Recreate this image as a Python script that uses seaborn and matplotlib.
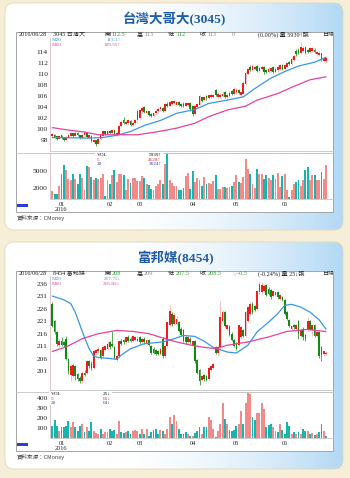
import numpy as np
import pandas as pd
import matplotlib
matplotlib.use("Agg")
import matplotlib.pyplot as plt
import seaborn as sns
from matplotlib.patches import FancyBboxPatch, Rectangle

sns.set_style("white")
SERIF = ['Liberation Serif', 'Noto Sans CJK TC', 'DejaVu Sans']
CJK = ['Noto Sans CJK TC', 'DejaVu Sans']
plt.rcParams['font.family'] = SERIF
plt.rcParams['axes.unicode_minus'] = False

# ---------------- data ----------------
month_idx = [4, 25, 38, 61, 80, 101]
month_labels = ['01\n2016', '02', '03', '04', '05', '06']

# 台灣大哥大 (3045)
o1 = [98.7, 99.0, 98.7, 98.3, 98.9, 98.4, 98.0, 98.4, 98.8, 99.3,
      98.8, 99.4, 98.9, 98.4, 98.9, 99.4, 98.5, 98.8, 97.7, 98.0,
      97.4, 98.2, 98.8, 99.6, 99.1, 99.7, 99.3, 99.8, 98.9, 99.2,
      100.6, 101.6, 100.9, 101.2, 101.5, 100.8, 101.2, 101.6, 102.0, 103.3,
      104.1, 102.9, 103.3, 102.7, 102.4, 102.9, 103.3, 103.6, 103.9, 103.4,
      104.6, 104.3, 104.6, 104.8, 104.5, 105.0, 104.6, 104.6, 104.3, 104.4,
      104.8, 104.2, 102.8, 104.0, 104.5, 105.8, 105.3, 106.0, 105.6, 105.8,
      105.9, 107.2, 105.8, 105.9, 106.0, 106.8, 105.8, 106.0, 106.9, 106.4,
      106.7, 107.2, 106.3, 106.5, 108.2, 110.0, 111.3, 110.8, 110.9, 111.5,
      110.6, 110.9, 111.3, 110.8, 110.4, 110.6, 111.3, 110.5, 110.7, 111.0,
      111.6, 111.0, 111.4, 112.2, 111.8, 112.6, 114.3, 114.5, 113.9, 114.2,
      114.9, 114.4, 114.0, 114.2, 114.5, 113.6, 113.5, 113.8, 112.4, 112.5]
c1 = [99.1, 98.6, 98.3, 98.8, 98.4, 98.0, 98.5, 98.9, 99.3, 98.8,
      99.4, 98.9, 98.4, 99.0, 99.5, 98.6, 98.9, 97.8, 98.1, 97.4,
      98.3, 98.9, 99.6, 99.1, 99.7, 99.3, 99.8, 99.1, 99.3, 100.6,
      101.4, 101.2, 101.3, 101.6, 100.8, 101.2, 101.7, 103.4, 103.5, 103.9,
      103.2, 103.3, 102.6, 102.4, 103.0, 103.4, 103.7, 104.0, 103.4, 104.6,
      104.3, 105.0, 105.1, 105.1, 105.0, 104.4, 104.2, 104.3, 104.8, 104.8,
      103.6, 102.8, 104.2, 104.6, 106.0, 105.2, 105.9, 105.6, 106.2, 106.3,
      106.3, 106.3, 106.5, 106.3, 106.5, 105.9, 106.3, 106.6, 106.4, 107.4,
      107.2, 106.6, 106.8, 108.5, 110.3, 110.9, 110.8, 111.5, 111.4, 110.6,
      111.2, 111.3, 110.4, 110.4, 111.0, 111.1, 110.5, 111.0, 111.3, 111.6,
      111.0, 111.6, 112.0, 111.8, 112.8, 113.4, 113.6, 113.9, 114.9, 114.8,
      113.9, 114.0, 114.7, 114.7, 114.0, 114.0, 113.9, 112.8, 113.0, 113.0]
h1 = [99.3, 99.1, 98.8, 99.0, 99.0, 98.6, 98.7, 99.1, 99.5, 99.4,
      99.6, 99.5, 99.0, 99.2, 99.7, 99.5, 99.1, 98.9, 98.3, 98.1,
      98.5, 99.1, 99.8, 99.7, 99.9, 99.8, 100.0, 99.9, 99.5, 100.8,
      101.7, 102.3, 101.6, 101.8, 101.6, 101.4, 101.9, 103.6, 103.7, 104.2,
      104.3, 103.5, 103.4, 102.9, 103.2, 103.6, 104.0, 104.2, 104.0, 104.8,
      104.9, 105.2, 105.3, 105.4, 105.2, 105.1, 104.8, 104.9, 105.0, 105.0,
      104.9, 104.3, 104.4, 104.8, 106.2, 105.9, 106.1, 106.2, 106.5, 106.6,
      106.5, 107.4, 106.8, 106.6, 106.9, 107.0, 106.6, 106.9, 107.1, 107.6,
      107.5, 107.3, 107.0, 108.7, 110.6, 111.2, 111.6, 111.8, 111.7, 111.7,
      111.5, 111.6, 111.5, 111.0, 111.3, 111.4, 111.5, 111.3, 111.6, 111.9,
      111.8, 111.9, 112.3, 112.4, 113.1, 113.6, 114.6, 114.8, 115.9, 115.1,
      115.0, 114.6, 115.0, 115.0, 114.7, 114.3, 114.2, 113.9, 113.2, 113.0]
l1 = [98.6, 98.4, 98.1, 98.2, 98.2, 97.8, 97.9, 98.3, 98.7, 98.6,
      98.7, 98.7, 98.2, 98.3, 98.8, 98.4, 98.3, 97.6, 97.4, 96.9,
      97.3, 98.1, 98.7, 99.0, 99.0, 99.1, 99.2, 98.9, 98.8, 99.1,
      100.4, 101.0, 100.7, 101.0, 100.6, 100.6, 101.0, 101.5, 101.9, 103.0,
      103.0, 102.7, 102.4, 102.2, 102.3, 102.8, 103.2, 103.4, 103.2, 103.3,
      104.1, 104.2, 104.5, 104.6, 104.4, 104.2, 104.0, 104.1, 104.2, 104.2,
      103.4, 102.5, 102.6, 103.8, 104.4, 105.0, 105.1, 105.4, 105.5, 105.6,
      105.7, 106.1, 105.6, 105.7, 105.8, 105.6, 105.5, 105.8, 106.2, 106.3,
      106.5, 106.4, 106.1, 106.4, 108.0, 109.8, 110.6, 110.6, 110.7, 110.4,
      110.4, 110.7, 110.1, 110.2, 110.2, 110.4, 110.3, 110.3, 110.5, 110.8,
      110.8, 110.8, 111.2, 111.6, 111.7, 112.4, 113.4, 113.7, 113.8, 114.0,
      113.7, 113.8, 113.8, 114.0, 113.8, 113.4, 113.3, 112.5, 112.2, 112.0]
ma20_1_x = [0, 16, 22, 28, 34, 40, 47, 54, 62, 68, 76, 83, 88, 95, 101, 107, 114, 119]
ma20_1_y = [98.5, 98.4, 98.5, 98.9, 99.6, 100.7, 101.6, 102.9, 103.6, 104.7,
            105.3, 105.9, 107.4, 109.3, 110.5, 111.5, 112.2, 113.1]
ma60_1_x = [0, 8, 14, 20, 28, 37, 45, 54, 62, 68, 76, 84, 89, 98, 105, 112, 119]
ma60_1_y = [100.3, 99.8, 99.5, 99.0, 99.0, 99.0, 99.5, 100.2, 101.1, 102.3,
            103.5, 104.2, 105.3, 106.5, 107.8, 109.0, 109.55]
v1 = [1400, 1000, 1000, 2400, 4500, 6100, 5100, 3500, 3350, 4500,
      3500, 2650, 4500, 3750, 1700, 5800, 5700, 4000, 3350, 3750,
      3500, 3750, 4500, 600, 3350, 2750, 4250, 5250, 3050, 4500,
      4500, 4350, 1600, 3500, 2900, 3800, 3800, 3250, 3250, 4050,
      3800, 2750, 2450, 1900, 1600, 2300, 2750, 3450, 2650, 6150,
      7950, 3450, 2900, 2300, 2300, 1600, 1700, 2050, 4050, 4700,
      1900, 4950, 3050, 3750, 3450, 2350, 3950, 2750, 2900, 2750,
      3250, 4350, 1900, 1900, 2200, 2200, 2050, 2200, 2300, 3050,
      4350, 3050, 2900, 3950, 7050, 5400, 4400, 2650, 2050, 5400,
      4500, 4500, 3650, 4250, 3800, 3350, 4250, 3650, 4700, 2200,
      4100, 4400, 1600, 400, 1700, 2750, 3050, 3450, 2350, 3450,
      5250, 5700, 3450, 4350, 4250, 3450, 3350, 4800, 3500, 6000]
vd1 = ("rttrttrrrt" "rttrrtrtrt" "rrrtrtrtrr" "rtrrtrrrrr" "trttrrrrtr" "trrrrtttrr"
       "ttrrrtrtrr" "rtrrrtrrtr" "rtrrrrtrrt" "rrttrrtrrr" "trrtrrttrr" "ttrrtrrtrr")

# 富邦媒 (8454)
o2 = [228.0, 221.0, 216.5, 211.5, 213.0, 212.5, 214.0, 206.0, 199.5, 199.0,
      203.0, 200.0, 198.5, 197.0, 200.5, 200.5, 205.0, 204.0, 202.5, 208.5,
      209.0, 209.5, 207.0, 209.5, 210.0, 212.5, 212.0, 210.5, 205.5, 207.0,
      213.0, 213.5, 212.5, 214.5, 214.0, 213.0, 213.5, 213.0, 214.5, 212.5,
      214.0, 212.0, 213.5, 211.0, 210.0, 209.5, 209.0, 208.0, 214.0, 207.0,
      211.0, 219.5, 224.0, 220.0, 220.0, 220.5, 218.0, 217.5, 214.5, 212.5,
      214.0, 211.5, 213.0, 205.5, 201.5, 197.5, 199.5, 199.0, 198.0, 201.5,
      202.5, 210.5, 208.5, 210.5, 221.0, 224.5, 218.0, 219.0, 216.0, 213.5,
      212.0, 211.5, 214.5, 217.5, 215.0, 221.0, 224.0, 228.0, 227.0, 226.0,
      232.5, 232.5, 233.0, 235.5, 234.0, 233.5, 231.0, 231.5, 232.5, 230.0,
      230.5, 229.5, 224.5, 221.5, 218.0, 219.5, 218.0, 221.0, 215.0, 218.0,
      215.5, 217.5, 221.0, 217.5, 219.5, 215.0, 216.5, 210.5, 208.0, 208.0]
c2 = [219.0, 216.5, 212.0, 213.0, 211.5, 211.5, 206.0, 201.0, 203.0, 203.5,
      199.0, 198.0, 197.0, 200.5, 199.5, 205.0, 203.0, 202.5, 209.0, 209.5,
      210.0, 206.5, 210.5, 211.0, 212.0, 210.5, 211.0, 206.5, 207.0, 213.0,
      212.0, 212.5, 214.5, 213.0, 213.0, 215.0, 214.5, 214.0, 212.5, 214.0,
      212.5, 213.5, 211.5, 208.5, 208.5, 208.0, 208.0, 210.0, 207.0, 211.0,
      220.5, 225.0, 220.0, 223.5, 222.0, 217.0, 215.5, 213.0, 212.5, 214.5,
      212.5, 213.0, 205.0, 200.5, 197.0, 199.0, 198.0, 197.5, 202.5, 203.0,
      204.0, 208.5, 210.5, 222.5, 224.5, 219.0, 219.5, 215.5, 213.5, 211.0,
      210.0, 219.5, 218.5, 215.0, 224.5, 226.5, 228.0, 224.5, 225.5, 233.0,
      236.0, 235.5, 235.0, 231.5, 232.0, 230.5, 233.0, 232.5, 230.5, 231.5,
      229.5, 224.0, 222.0, 219.0, 219.0, 218.5, 219.5, 216.0, 217.5, 214.5,
      214.0, 221.0, 218.0, 219.5, 215.0, 216.5, 207.0, 207.5, 209.0, 208.5]
h2 = [228.5, 221.5, 217.0, 214.0, 214.5, 213.0, 215.0, 206.5, 204.0, 204.5,
      203.5, 200.5, 199.0, 201.0, 201.5, 205.5, 205.5, 205.0, 210.0, 210.0,
      210.5, 210.0, 211.0, 211.5, 213.0, 213.0, 217.0, 211.0, 208.0, 213.5,
      214.0, 214.0, 215.0, 215.5, 214.5, 215.5, 215.0, 215.0, 215.0, 214.5,
      214.5, 214.0, 214.0, 211.5, 210.5, 210.0, 209.5, 210.5, 214.5, 211.5,
      221.0, 227.5, 224.5, 224.5, 223.0, 221.0, 218.5, 218.0, 215.0, 215.5,
      214.5, 213.5, 213.5, 206.0, 202.0, 199.5, 200.0, 199.5, 203.0, 203.5,
      204.5, 211.0, 211.5, 229.0, 225.5, 225.0, 220.0, 219.5, 216.5, 214.0,
      212.5, 220.0, 219.0, 218.0, 225.0, 227.0, 229.0, 228.5, 227.5, 233.5,
      237.0, 236.5, 236.0, 236.0, 234.5, 234.0, 233.5, 233.0, 233.0, 232.0,
      231.0, 230.0, 225.0, 222.0, 219.5, 220.0, 220.0, 221.5, 218.0, 218.5,
      216.0, 222.5, 221.5, 220.0, 220.0, 217.0, 217.0, 211.0, 209.5, 209.0]
l2 = [218.5, 216.0, 211.0, 210.5, 211.0, 210.5, 205.5, 200.0, 197.0, 198.5,
      197.5, 197.0, 196.5, 196.5, 199.0, 200.0, 202.5, 201.5, 202.0, 207.5,
      208.0, 206.0, 206.5, 209.0, 209.5, 210.0, 210.5, 206.0, 205.0, 206.5,
      211.5, 212.0, 212.0, 212.5, 212.5, 212.5, 213.0, 212.5, 212.0, 212.0,
      212.0, 211.5, 211.0, 208.0, 208.0, 207.5, 207.5, 207.5, 206.5, 206.5,
      210.5, 219.0, 219.0, 219.5, 219.5, 216.5, 215.0, 212.5, 212.0, 212.0,
      212.0, 211.0, 204.5, 200.0, 195.5, 197.0, 197.0, 197.0, 197.5, 201.0,
      202.0, 208.0, 207.0, 210.0, 220.5, 218.5, 217.5, 215.0, 213.0, 210.5,
      209.5, 211.0, 214.0, 214.5, 214.5, 220.5, 223.5, 224.0, 225.0, 225.5,
      232.0, 232.0, 232.5, 231.0, 231.5, 230.0, 230.5, 231.0, 230.0, 229.5,
      229.0, 223.5, 221.5, 218.5, 217.5, 218.0, 217.5, 214.0, 214.5, 213.5,
      213.0, 217.0, 217.5, 215.0, 214.5, 214.5, 206.5, 205.0, 207.0, 207.5]
ma20_2_x = [0, 5, 8, 10, 12, 14, 16, 18, 20, 24, 28, 30, 34, 40, 48, 53, 57, 62,
            66, 70, 76, 80, 85, 89, 94, 98, 101, 104, 108, 112, 116, 119]
ma20_2_y = [231.0, 229.5, 228.0, 224.5, 219.5, 214.5, 210.0, 207.0, 206.5, 206.2,
            205.8, 207.5, 210.0, 212.0, 212.7, 214.0, 215.3, 214.9, 213.0, 210.5,
            208.7, 208.3, 211.4, 216.7, 220.6, 224.0, 227.3, 227.7, 226.6, 224.6,
            221.5, 217.75]
ma60_2_x = [0, 6, 13, 20, 28, 35, 42, 48, 54, 60, 65, 71, 76, 85, 94, 102, 111, 119]
ma60_2_y = [208.9, 210.7, 214.0, 216.0, 217.3, 216.9, 216.0, 214.3, 212.7, 211.5,
            210.7, 210.0, 211.4, 212.7, 214.7, 216.9, 217.7, 216.82]
v2 = [116, 178, 116, 67, 106, 106, 116, 172, 106, 155,
      106, 73, 116, 139, 57, 113, 73, 162, 67, 51,
      41, 96, 41, 57, 57, 90, 73, 80, 41, 172,
      57, 51, 57, 67, 41, 67, 83, 73, 41, 90,
      41, 90, 25, 64, 80, 90, 41, 80, 67, 41,
      90, 211, 139, 230, 172, 96, 41, 47, 57, 47,
      25, 25, 51, 73, 106, 47, 113, 113, 211, 178,
      90, 15, 67, 139, 342, 185, 139, 80, 73, 80,
      116, 145, 263, 145, 351, 443, 433, 211, 178, 250,
      253, 351, 286, 113, 129, 139, 113, 73, 57, 139,
      80, 47, 162, 116, 41, 57, 47, 57, 41, 90,
      73, 67, 41, 51, 34, 41, 64, 145, 73, 25]
vd2 = ("tttrttttrr" "tttrtrttrr" "rtrrrtttrr" "ttrttrrrtr" "trtttttrtr" "rrtrrttttr"
       "trtttrttrr" "rtrrrtrttt" "trrtrrrttr" "rrrtttrrtr" "ttttrtrtrt" "trtrtrttrt")

panels = [
    dict(dy=0, title='台灣大哥大(3045)', o=o1, h=h1, l=l1, c=c1,
         m20=(ma20_1_x, ma20_1_y), m60=(ma60_1_x, ma60_1_y), v=v1, vd=vd1,
         ylim=(96.05, 116.6), yticks=list(range(98, 115, 2)), ppu=5.5,
         vylim=(0, 8220), vyticks=[2000, 5000],
         header=[(18.3, '2016/06/28', '#222222'), (53.3, '3045 台灣大', '#222222'),
                 (104, '開', '#222222'), (111.7, '112.5', '#2e9b2e'),
                 (136.7, '高', '#222222'), (144, '113', '#8a8a8a'),
                 (168.3, '低', '#222222'), (176, '112', '#2e9b2e'),
                 (200, '收', '#222222'), (207.3, '113', '#8a8a8a'),
                 (231.7, '0', '#8a8a8a'), (258.3, '(0.00%) 量 5939↑張', '#222222'),
                 (323, '日線', '#222222')],
         m20txt='113.1↑', m60txt='109.55↑',
         vleg_x=(96.7, 161.5), vleg=('5939↑', '4128↑', '3624↑')),
    dict(dy=239, title='富邦媒(8454)', o=o2, h=h2, l=l2, c=c2,
         m20=(ma20_2_x, ma20_2_y), m60=(ma60_2_x, ma60_2_y), v=v2, vd=vd2,
         ylim=(193.55, 238.6), yticks=list(range(201, 237, 5)), ppu=2.51,
         vylim=(0, 457), vyticks=[100, 200, 300, 400],
         header=[(18.3, '2016/06/28', '#222222'), (53.3, '8454 富邦媒', '#222222'),
                 (104, '開', '#222222'), (111.7, '208', '#2e9b2e'),
                 (136.7, '高', '#222222'), (144, '209', '#8a8a8a'),
                 (168.3, '低', '#222222'), (176, '207.5', '#2e9b2e'),
                 (200, '收', '#222222'), (207.3, '208.5', '#2e9b2e'),
                 (231.7, '▽-0.5', '#2e9b2e'), (258.3, '(-0.24%) 量 25↓張', '#222222'),
                 (323, '日線', '#222222')],
         m20txt='217.75↓', m60txt='216.82↓',
         vleg_x=(51.0, 111.0), vleg=('25↓', '66↓', '64↓')),
]

# ---------------- styling ----------------
W, H = 350, 478
UP, DN = '#f01c1c', '#138a13'
WUP, WDN = '#f2a3a3', '#8cc28c'
VR, VT = '#f38a8a', '#17b5ad'
C20, C60 = '#3b96e6', '#e2449e'
SPINE_L, SPINE_B = '#dcbcc4', '#c4c4c4'

fig = plt.figure(figsize=(W / 100, H / 100), dpi=100)
fig.patch.set_facecolor('#f6eed7')


def rect(x0, y0, x1, y1):
    return [x0 / W, 1 - y1 / H, (x1 - x0) / W, (y1 - y0) / H]


bg = fig.add_axes([0, 0, 1, 1], zorder=0)
bg.axis('off')

gx = np.linspace(0, 1, 256)
tt = np.clip((gx - 0.3) / 0.7, 0, 1) ** 1.8
cw = np.array([1.0, 1.0, 1.0])
cb = np.array([0.70, 0.85, 0.96])
grow = cw[None, :] * (1 - tt[:, None]) + cb[None, :] * tt[:, None]
grad = np.repeat(grow[None, :, :], 2, axis=0)

for P in panels:
    dy = P['dy']
    # outer rounded panel with gradient
    patch = FancyBboxPatch((5, 3 + dy), 338, 227,
                           boxstyle="round,pad=0,rounding_size=9",
                           transform=bg.transData, fc='none', ec='#e3d7bc',
                           lw=0.6, zorder=2)
    bg.add_patch(patch)
    im = bg.imshow(grad, extent=(5, 343, 230 + dy, 3 + dy), aspect='auto',
                   zorder=1, interpolation='bilinear')
    im.set_clip_path(patch)
    # chart box
    bg.add_patch(Rectangle((16, 31.7 + dy), 317, 180, fc='white', ec='#a5a5a5',
                           lw=0.7, zorder=3))
    bg.plot([16, 333], [152.7 + dy] * 2, color='#c4c4c4', lw=0.6, zorder=4)
    bg.add_patch(Rectangle((16.7, 204.3 + dy), 11.6, 3, fc='#2b3fd6', lw=0, zorder=5))
    bg.text(175, 19.5 + dy, P['title'], ha='center', va='center', fontsize=9.7,
            fontweight='bold', color='#1f5ba8', zorder=5)
    bg.text(17, 217.8 + dy, '資料來源：CMoney', ha='left', va='center', fontsize=4,
            color='#444444', family=CJK, zorder=5)

    n = len(P['c'])
    xi = np.arange(n)
    o = np.array(P['o']); c = np.array(P['c'])
    hi = np.array(P['h']); lo = np.array(P['l'])

    # ---- price axes ----
    ax = fig.add_axes(rect(50, 38 + dy, 333, 151 + dy), zorder=2)
    ax.patch.set_alpha(0)
    up = c >= o
    ax.vlines(xi, lo, hi, colors=np.where(up, WUP, DN), linewidth=0.5, zorder=2)
    bottom = np.minimum(o, c)
    height = np.maximum(np.abs(c - o), 0.8 / P['ppu'])
    ax.bar(xi, height, bottom=bottom, width=0.75, color=np.where(up, UP, DN),
           linewidth=0, zorder=3)
    sns.lineplot(x=P['m20'][0], y=P['m20'][1], color=C20, linewidth=0.9, ax=ax, zorder=4)
    sns.lineplot(x=P['m60'][0], y=P['m60'][1], color=C60, linewidth=0.9, ax=ax, zorder=4)
    ax.set_xlim(-1.0, 122.0)
    ax.set_ylim(*P['ylim'])
    ax.set_yticks(P['yticks'])
    ax.set_yticklabels([str(t) for t in P['yticks']])
    ax.set_xticks(month_idx)
    ax.set_xticklabels([])
    ax.set_xlabel(''); ax.set_ylabel('')
    ax.tick_params(axis='y', length=0, pad=1.5, labelsize=5.4, labelcolor='#222222')
    ax.tick_params(axis='x', direction='in', length=1.5, width=0.5, colors='#999999')
    for s in ['top', 'right']:
        ax.spines[s].set_visible(False)
    ax.spines['left'].set_color(SPINE_L); ax.spines['left'].set_linewidth(0.6)
    ax.spines['bottom'].set_color(SPINE_B); ax.spines['bottom'].set_linewidth(0.6)

    # ---- volume axes ----
    axv = fig.add_axes(rect(50, 152.7 + dy, 333, 199.3 + dy), zorder=2)
    axv.patch.set_alpha(0)
    dfv = pd.DataFrame({'i': xi, 'v': P['v'], 'd': list(P['vd'])})
    sns.barplot(data=dfv, x='i', y='v', hue='d', palette={'r': VR, 't': VT},
                native_scale=True, dodge=False, width=0.82, saturation=1,
                errorbar=None, legend=False, ax=axv, linewidth=0)
    axv.set_xlim(-1.0, 122.0)
    axv.set_ylim(*P['vylim'])
    axv.set_yticks(P['vyticks'])
    axv.set_yticklabels([str(t) for t in P['vyticks']])
    axv.set_xticks(month_idx)
    axv.set_xticklabels(month_labels)
    for lb in axv.get_xticklabels():
        lb.set_linespacing(0.95)
    axv.set_xlabel(''); axv.set_ylabel('')
    axv.tick_params(axis='y', length=0, pad=1.5, labelsize=5.4, labelcolor='#222222')
    axv.tick_params(axis='x', direction='in', length=1.5, width=0.5, colors='#999999',
                    labelcolor='#222222', labelsize=4.6, pad=2.2)
    axv.spines['right'].set_visible(False)
    axv.spines['left'].set_color(SPINE_L); axv.spines['left'].set_linewidth(0.6)
    for s in ['top', 'bottom']:
        axv.spines[s].set_color(SPINE_B); axv.spines[s].set_linewidth(0.6)

    # ---- overlay: header and legends (pixel coordinates) ----
    hx = fig.add_axes(rect(16, 31.7 + dy, 333, 211.7 + dy), zorder=6)
    hx.set_xlim(16, 333); hx.set_ylim(211.7 + dy, 31.7 + dy)
    hx.axis('off')
    for (x, s, col) in P['header']:
        hx.text(x, 34.7 + dy, s, ha='left', va='center', fontsize=4.4, color=col,
                clip_on=True)
    hx.text(51.7, 40.3 + dy, 'M20', ha='left', va='center', fontsize=3.8, color=C20)
    hx.text(120.5, 40.3 + dy, P['m20txt'], ha='right', va='center', fontsize=3.8, color=C20)
    hx.text(51.7, 44.7 + dy, 'M60', ha='left', va='center', fontsize=3.8, color=C60)
    hx.text(120.5, 44.7 + dy, P['m60txt'], ha='right', va='center', fontsize=3.8, color=C60)
    lx0, lx1 = P['vleg_x']
    hx.add_patch(Rectangle((lx0 - 1.7, 153.3 + dy), lx1 - lx0 + 3, 12.5, fc='white',
                           ec='none', zorder=1))
    for k, (lab, col) in enumerate([('VOL', '#111111'), ('5', '#e8262e'), ('20', '#3535c8')]):
        yy = 155.3 + 4.35 * k + dy
        hx.text(lx0, yy, lab, ha='left', va='center', fontsize=3.8, color=col, zorder=2)
        hx.text(lx1, yy, P['vleg'][k], ha='right', va='center', fontsize=3.8, color=col,
                zorder=2)

bg.set_xlim(0, W)
bg.set_ylim(H, 0)

fig.savefig('out.png', dpi=100, facecolor=fig.get_facecolor())
